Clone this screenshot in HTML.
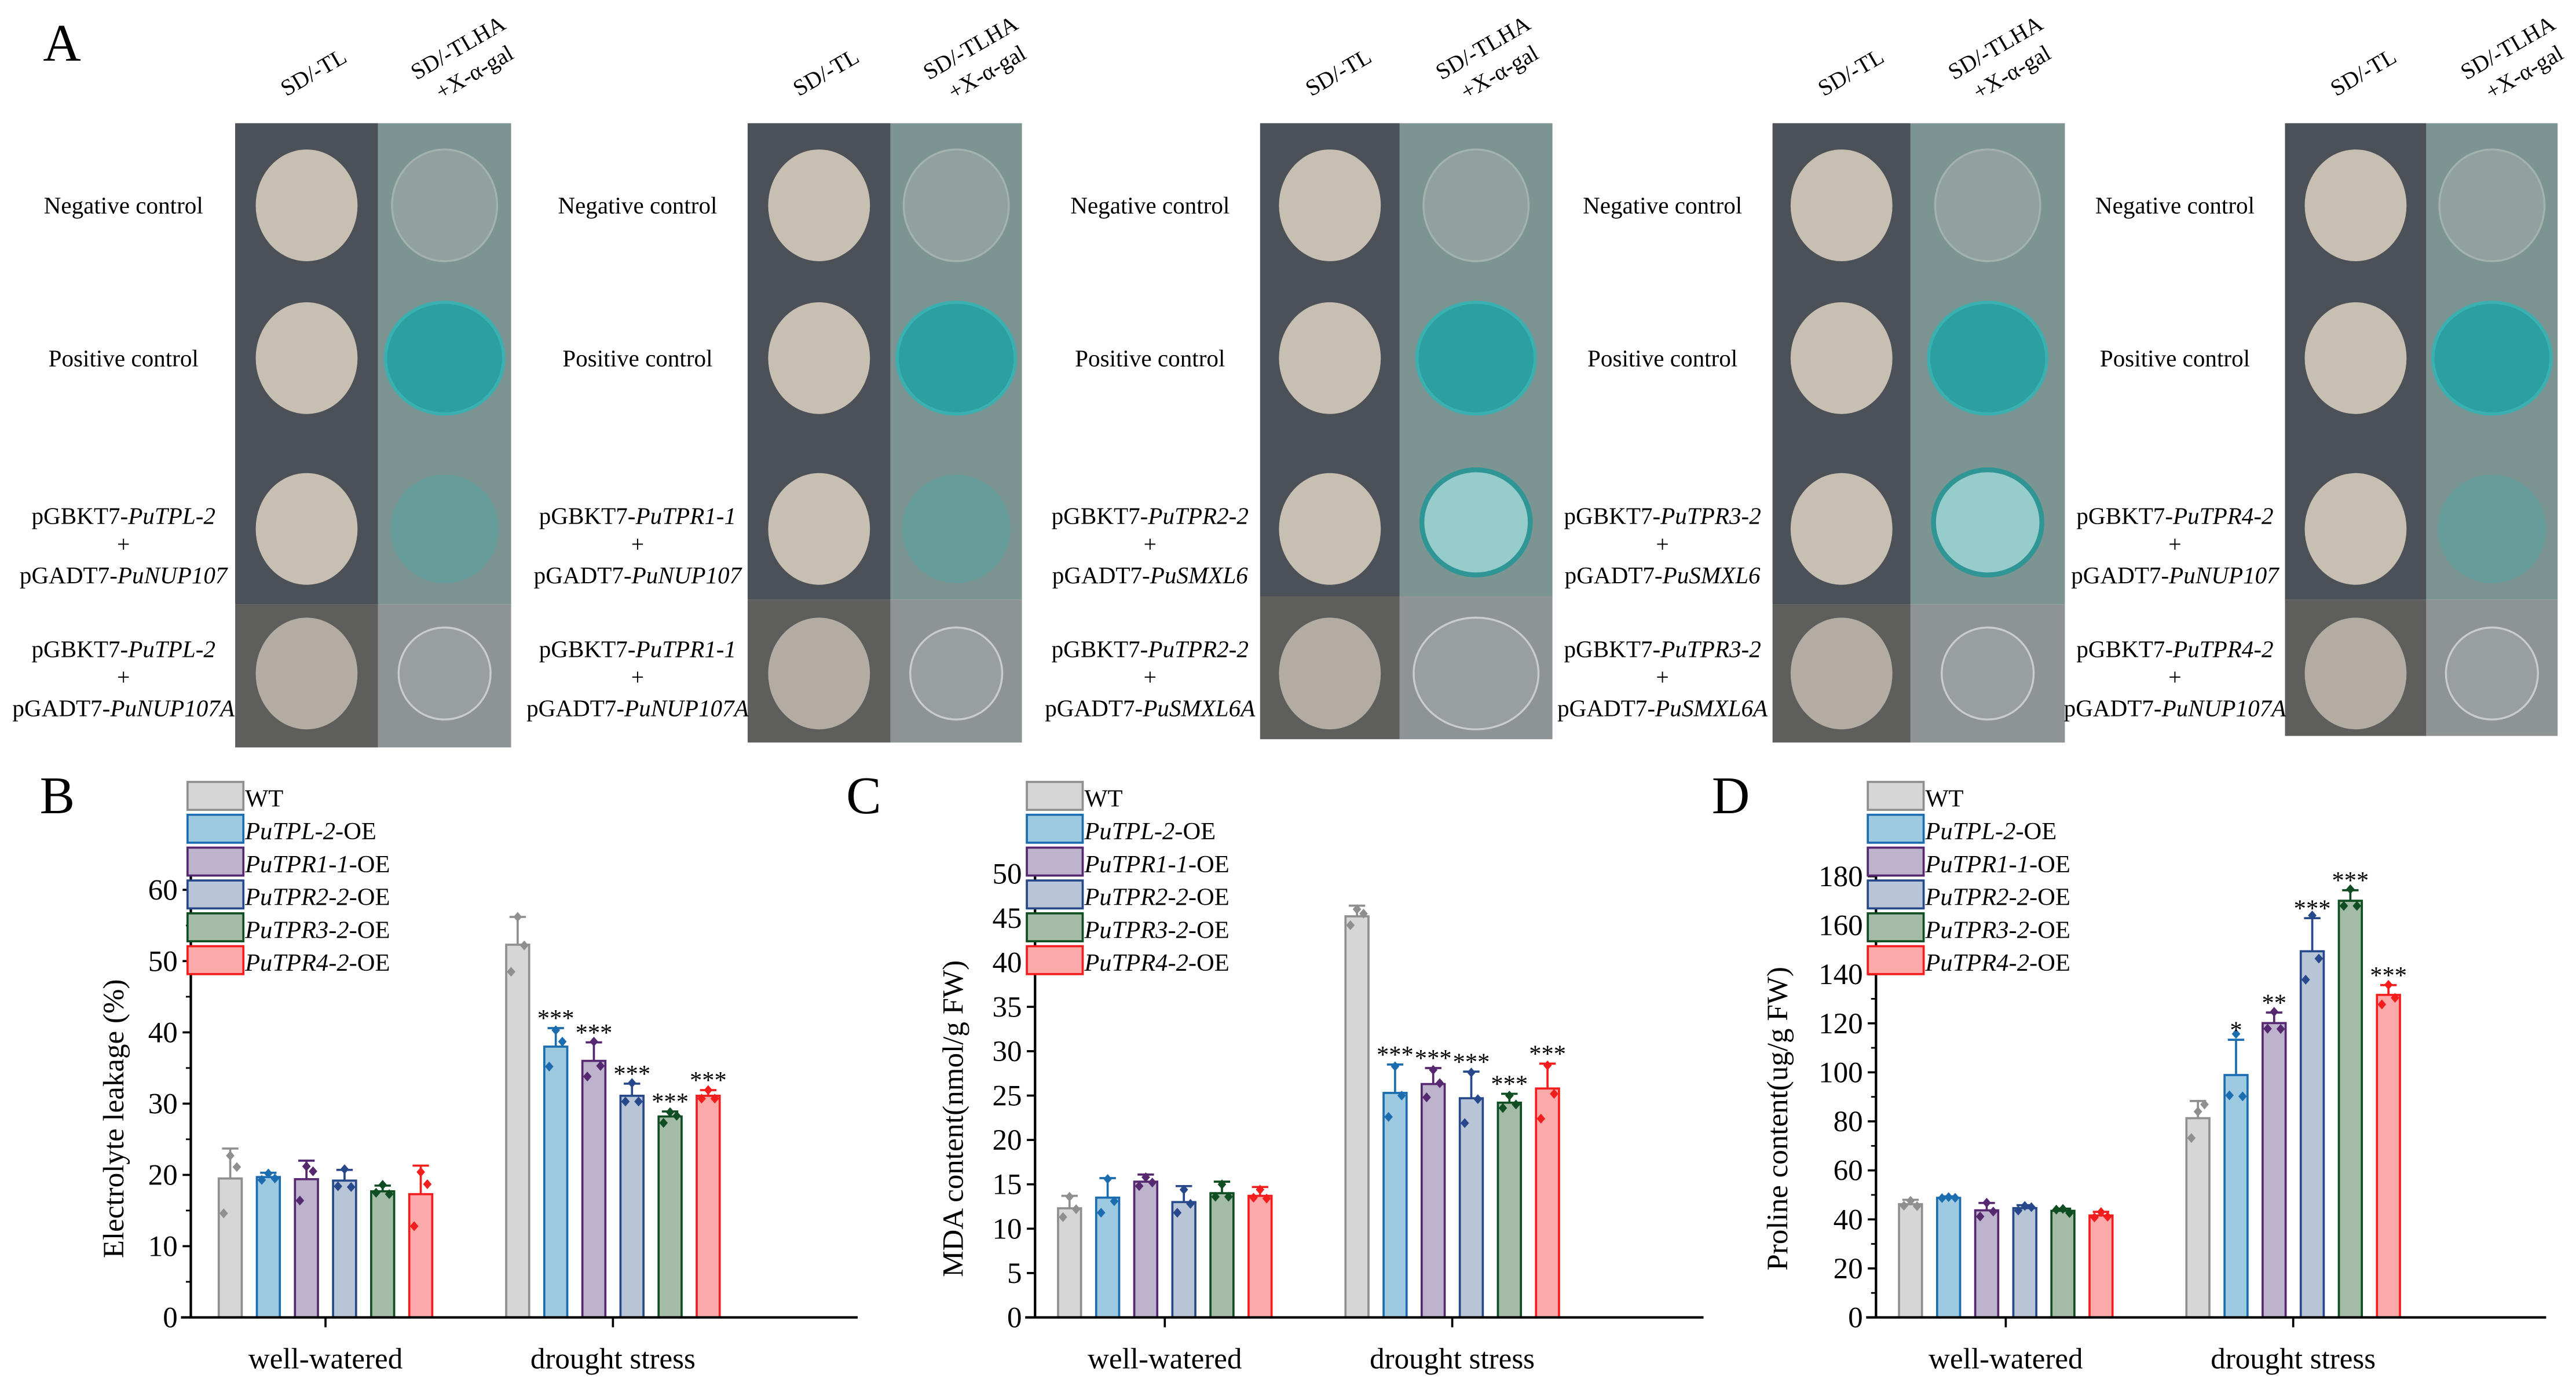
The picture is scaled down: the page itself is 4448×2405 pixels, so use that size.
<!DOCTYPE html>
<html><head><meta charset="utf-8"><style>
html,body{margin:0;padding:0;background:#fff}
svg{display:block}
text{font-family:"Liberation Serif","DejaVu Serif",serif;fill:#000}
</style></head><body>
<svg id="fig" width="4448" height="2405" viewBox="0 0 1568 848" xmlns="http://www.w3.org/2000/svg">
<rect width="1568" height="848" fill="#fff"/>
<g id="panelA"></g>
<g id="charts"></g>
</svg>
<script>
// ---------- Panel A data ----------
const plateLefts=[143,455,767,1079,1391];
const plateRights=[311,622,945,1257,1557];
const plateSplits=[230,542,852,1163,1477];
const plateBottoms=[455,452,450,452,448];
const row4Tops=[368,365,363,368,365];
const labelX=[75,388,700,1012,1324];
const baitGenes=["PuTPL-2","PuTPR1-1","PuTPR2-2","PuTPR3-2","PuTPR4-2"];
const preyGenes=["PuNUP107","PuNUP107","PuSMXL6","PuSMXL6","PuNUP107"];
const row3Strong=[false,false,true,true,false];
const NS="http://www.w3.org/2000/svg";
function mk(tag,attrs,parent){const e=document.createElementNS(NS,tag);for(const k in attrs)e.setAttribute(k,attrs[k]);parent.appendChild(e);return e;}
const A=document.getElementById('panelA');
const la=mk('text',{x:26,y:37,'font-size':32},A);la.textContent='A';


for(let i=0;i<5;i++){
  const L=plateLefts[i],R=plateRights[i],S=plateSplits[i],B=plateBottoms[i],T4=row4Tops[i];
  const g=mk('g',{},A);
  
  
  mk('rect',{x:L,y:75,width:S-L,height:T4-75,fill:'#4c5157'},g);
  mk('rect',{x:S,y:75,width:R-S,height:T4-75,fill:'#7d9592'},g);
  mk('rect',{x:L,y:T4,width:S-L,height:B-T4,fill:'#5e5e5c'},g);
  mk('rect',{x:S,y:T4,width:R-S,height:B-T4,fill:'#8e9495'},g);
  const cxL=(L+S)/2, cxR=(S+R)/2;
  const ys=[125,218,322,410];
  ys.forEach((y,r)=>{mk('ellipse',{cx:cxL,cy:y,rx:31,ry:34,fill:r==3?'#b3aca2':'#c6bfb2'},g);});
  mk('ellipse',{cx:cxR,cy:125,rx:32,ry:34,fill:'#91a29e',stroke:'#a3b2ae','stroke-width':1.2},g);
  mk('ellipse',{cx:cxR,cy:218,rx:36,ry:34,fill:'#2aa0a0',stroke:'#3bb0b0','stroke-width':2},g);
  if(row3Strong[i]) mk('ellipse',{cx:cxR,cy:318,rx:33,ry:32,fill:'#96cccc',stroke:'#2f9595','stroke-width':3},g);
  else mk('ellipse',{cx:cxR,cy:322,rx:33,ry:33,fill:'#679e9b'},g);
  mk('ellipse',{cx:cxR,cy:410,rx:i==2?38:28,ry:i==2?34:28,fill:'#999ea0',stroke:'#c8cccc','stroke-width':1.2},g);
  const h1=mk('text',{x:0,y:0,'font-size':14,'text-anchor':'middle',transform:`translate(${L+50},48) rotate(-30)`},A);h1.textContent='SD/-TL';
  
  
  const h2=mk('text',{x:0,y:0,'font-size':14,'text-anchor':'middle',transform:`translate(${L+138},33) rotate(-30)`},A);h2.textContent='SD/-TLHA';
  
  
  const h3=mk('text',{x:0,y:0,'font-size':14,'text-anchor':'middle',transform:`translate(${L+148},48) rotate(-30)`},A);h3.textContent='+X-α-gal';
  
  
  const lx=labelX[i];
  const t1=mk('text',{x:lx,y:130,'font-size':14.5,'text-anchor':'middle'},A);t1.textContent='Negative control';
  
  
  const t2=mk('text',{x:lx,y:223,'font-size':14.5,'text-anchor':'middle'},A);t2.textContent='Positive control';
  
  
  [[319,''],[400,'A']].forEach(([y0,suf])=>{
    const a=mk('text',{x:lx,y:y0,'font-size':14.5,'text-anchor':'middle'},A);
    a.innerHTML='pGBKT7-<tspan font-style="italic">'+baitGenes[i]+'</tspan>';
    
    
    const p=mk('text',{x:lx,y:y0+17,'font-size':14,'text-anchor':'middle'},A);p.textContent='+';
    
    
    const b=mk('text',{x:lx,y:y0+36,'font-size':14.5,'text-anchor':'middle'},A);
    b.innerHTML='pGADT7-<tspan font-style="italic">'+preyGenes[i]+suf+'</tspan>';
    
    
  });
}

// ---------- Chart data ----------
const groups=["well-watered","drought stress"];
const seriesNames=["WT","PuTPL-2","PuTPR1-1","PuTPR2-2","PuTPR3-2","PuTPR4-2"];
const fills=["#d6d6d6","#9ecae1","#bdb3cd","#b8c5d6","#a4bba8","#fca9a9"];
const strokes=["#8f8f8f","#1c6db0","#55286f","#27498b","#0f4d22","#f21d1d"];

const elWW=[19.5,19.7,19.4,19.2,17.7,17.3];
const elDS=[52.3,38.0,36.0,31.1,28.2,31.1];
const elErrWW=[4.2,0.6,2.6,1.5,0.8,4.0];
const elErrDS=[3.9,2.6,2.6,1.7,0.7,0.8];
const elPtsWW=[[22.7,21.1,14.6],[20.2,19.5,19.3],[21.2,20.5,16.4],[20.8,18.3,18.4],[18.6,17.3,17.5],[20.4,18.7,12.8]];
const elPtsDS=[[56.2,52.2,48.5],[40.3,38.7,35.2],[38.7,35.3,33.8],[32.9,30.3,30.3],[28.8,28.3,27.3],[31.9,30.7,30.7]];
const elSig=["","***","***","***","***","***"];
const elTicks=[0,10,20,30,40,50,60];

const mdaWW=[12.3,13.5,15.3,13.0,14.0,13.7];
const mdaDS=[45.2,25.3,26.3,24.7,24.2,25.8];
const mdaErrWW=[1.4,2.2,0.8,1.8,1.3,1.0];
const mdaErrDS=[1.2,3.2,1.8,3.0,1.0,2.8];
const mdaPtsWW=[[13.6,12.2,11.3],[15.6,13.1,11.8],[15.8,15.2,14.8],[14.4,12.8,11.8],[15.0,13.6,13.6],[14.4,13.4,13.5]];
const mdaPtsDS=[[46.0,45.5,44.2],[28.3,25.0,22.6],[27.9,26.4,24.8],[27.6,24.6,21.9],[25.0,24.0,23.6],[28.4,25.2,22.4]];
const mdaSig=["","***","***","***","***","***"];
const mdaTicks=[0,5,10,15,20,25,30,35,40,45,50];

const proWW=[46.2,48.8,43.7,44.6,43.5,41.6];
const proDS=[81.3,98.9,120.1,149.4,170.0,131.6];
const proErrWW=[1.8,0.6,3.0,1.2,0.9,1.5];
const proErrDS=[7.0,14.4,4.3,13.5,4.3,4.0];
const proPtsWW=[[47.6,45.4,45.6],[49.1,48.8,48.7],[46.8,43.2,41.2],[45.5,45.0,43.6],[44.3,42.6,44.0],[43.0,41.1,40.8]];
const proPtsDS=[[84.0,86.9,73.2],[115.7,90.2,90.6],[124.7,117.7,117.8],[164.0,146.4,137.8],[174.7,167.9,167.9],[135.7,130.4,127.7]];
const proSig=["","*","**","***","***","***"];
const proTicks=[0,20,40,60,80,100,120,140,160,180];

const charts=[
 {letter:'B',name:'electrolyte-leakage',axX:116,y0:802,yTop:520,vmax:65,minor:5,title:'Electrolyte leakage (%)',ww:elWW,ds:elDS,ewW:elErrWW,ewD:elErrDS,pW:elPtsWW,pD:elPtsDS,sig:elSig,ticks:elTicks,xEnd:522,wwC:198,dsC:373,titleX:75,legX:114,letX:24},
 {letter:'C',name:'mda-content',axX:630,y0:802,yTop:520,vmax:52.2,minor:null,title:'MDA content(nmol/g FW)',ww:mdaWW,ds:mdaDS,ewW:mdaErrWW,ewD:mdaErrDS,pW:mdaPtsWW,pD:mdaPtsDS,sig:mdaSig,ticks:mdaTicks,xEnd:1037,wwC:709,dsC:884,titleX:586,legX:625,letX:515},
 {letter:'D',name:'proline-content',axX:1142,y0:802,yTop:520,vmax:189,minor:10,title:'Proline content(ug/g FW)',ww:proWW,ds:proDS,ewW:proErrWW,ewD:proErrDS,pW:proPtsWW,pD:proPtsDS,sig:proSig,ticks:proTicks,xEnd:1550,wwC:1221,dsC:1396,titleX:1088,legX:1137,letX:1042}
];
const C=document.getElementById('charts');
charts.forEach(ch=>{
  const g=mk('g',{},C);
  
  
  const y=v=>ch.y0-(v/ch.vmax)*(ch.y0-ch.yTop);
  const lt=mk('text',{x:ch.letX,y:495,'font-size':32},g);lt.textContent=ch.letter;
  
  
  const barW=14, step=23.2;
  [[ch.ww,ch.ewW,ch.pW,ch.wwC,null],[ch.ds,ch.ewD,ch.pD,ch.dsC,ch.sig]].forEach(([vals,errs,pts,cx,sig],gi)=>{
    vals.forEach((v,s)=>{
      const bx=cx+(s-2.5)*step;
      const b=mk('rect',{x:bx-barW/2,y:y(v),width:barW,height:ch.y0-y(v),fill:fills[s],stroke:strokes[s],'stroke-width':1.3},g);
      
      
      const top=y(v+errs[s]);
      const e=mk('path',{d:`M${bx},${y(v)}V${top}M${bx-5},${top}H${bx+5}`,stroke:strokes[s],'stroke-width':1.3,fill:'none'},g);
      
      
      pts[s].forEach((p,k)=>{
        const xx=bx+[0,4,-4][k];const yy=y(p);
        const d=mk('path',{d:`M${xx},${yy-3}L${xx+2.6},${yy}L${xx},${yy+3}L${xx-2.6},${yy}Z`,fill:strokes[s]},g);
        
        
      });
      if(sig&&sig[s]){
        const st=mk('text',{x:bx,y:top-1,'font-size':15,'text-anchor':'middle'},g);st.textContent=sig[s];
        
        
      }
    });
  });
  const ax=mk('path',{d:`M${ch.axX},${ch.yTop}V${ch.y0}M${ch.axX-6},${ch.y0}H${ch.xEnd}`,stroke:'#000','stroke-width':1.5,fill:'none'},g);
  
  
  ch.ticks.forEach(t=>{
    mk('path',{d:`M${ch.axX-5},${y(t)}H${ch.axX}`,stroke:'#000','stroke-width':1.3},g);
    const tl=mk('text',{x:ch.axX-8,y:y(t)+6,'font-size':18,'text-anchor':'end'},g);tl.textContent=t;
    
    
  });
  if(ch.minor){for(let v=ch.minor;v<ch.vmax;v+=2*ch.minor){mk('path',{d:`M${ch.axX-3},${y(v)}H${ch.axX}`,stroke:'#000','stroke-width':1},g);}}
  [ch.wwC,ch.dsC].forEach((cx,i)=>{
    mk('path',{d:`M${cx},${ch.y0}V${ch.y0+6}`,stroke:'#000','stroke-width':1.3},g);
    const xl=mk('text',{x:cx,y:833,'font-size':18,'text-anchor':'middle'},g);xl.textContent=groups[i];
    
    
  });
  const yt=mk('text',{x:0,y:0,'font-size':18,'text-anchor':'middle',transform:`translate(${ch.titleX},${(ch.y0+ch.yTop)/2+20}) rotate(-90)`},g);yt.textContent=ch.title;
  
  
  seriesNames.forEach((n,s)=>{
    const ly=476+s*20;
    const lb=mk('rect',{x:ch.legX,y:ly,width:34,height:17,fill:fills[s],stroke:strokes[s],'stroke-width':1.3},g);
    
    
    const lt2=mk('text',{x:ch.legX+35,y:ly+15,'font-size':15},g);
    lt2.innerHTML= s==0?'WT':'<tspan font-style="italic">'+n+'</tspan>-OE';
    
    
  });
});
</script>
</body></html>
